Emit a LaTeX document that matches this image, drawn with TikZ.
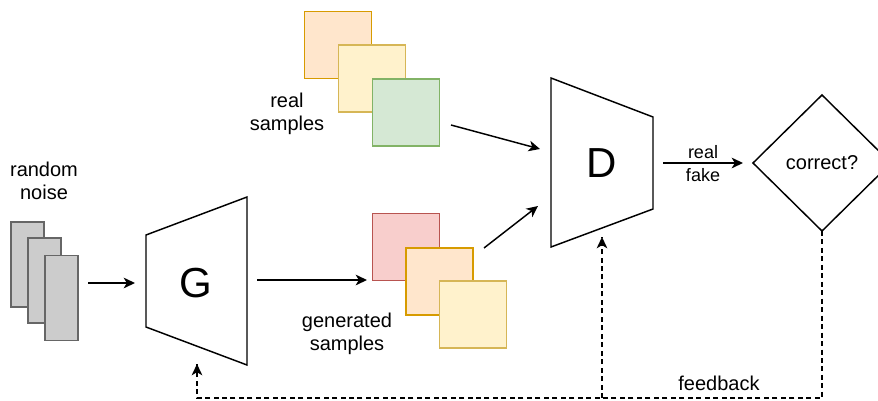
\documentclass[tikz,border=0pt]{standalone}
\usepackage{fontspec}
\setmainfont{Liberation Sans}
\usetikzlibrary{arrows.meta}

\definecolor{noiseFill}{HTML}{CCCCCC}
\definecolor{noiseLine}{HTML}{666666}
\definecolor{redFill}{HTML}{F8CECC}
\definecolor{redLine}{HTML}{B85450}
\definecolor{orangeFill}{HTML}{FFE6CC}
\definecolor{orangeLine}{HTML}{D79B00}
\definecolor{yellowFill}{HTML}{FFF2CC}
\definecolor{yellowLine}{HTML}{D6B656}
\definecolor{greenFill}{HTML}{D5E8D4}
\definecolor{greenLine}{HTML}{82B366}

\tikzset{
  arr/.style={-{Stealth[length=8.5pt,width=8pt,inset=2.4pt]}, line width=1.1pt},
  fb/.style={line width=1.1pt, dash pattern=on 3.75pt off 2.6pt},
  noisebox/.style={draw=noiseLine, fill=noiseFill, line width=1.1pt,
    minimum width=24.75pt, minimum height=63.75pt, inner sep=0pt},
  samplebox/.style={line width=1.1pt, minimum size=50.5pt, inner sep=0pt},
  lbl/.style={font=\fontsize{15pt}{17pt}\selectfont, align=center, inner sep=0pt},
  small/.style={font=\fontsize{13.5pt}{15pt}\selectfont, inner sep=0pt},
  big/.style={font=\fontsize{31.5pt}{34pt}\selectfont, inner sep=0pt},
  trap/.style={draw, line width=1.1pt, line join=miter, fill=white},
}

\begin{document}
\begin{tikzpicture}[x=0.75pt, y=-0.75pt]
\useasboundingbox (0,0) rectangle (878,400);
\clip (0,0) rectangle (878,400);

% random noise input
\node[lbl] (noiseLbl) at (44,181) {random\\noise};
\node[noisebox] (n1) at (27.5,264.5) {};
\node[noisebox] (n2) at (44.5,280.5) {};
\node[noisebox] (n3) at (61.5,298) {};

% generator
\draw[trap] (146,235) -- (247,197) -- (247,365) -- (146,327) -- cycle;
\node[big] (G) at (196,283) {G};

% real samples
\node[samplebox, draw=orangeLine, fill=orangeFill] (r1) at (338,45) {};
\node[samplebox, draw=yellowLine, fill=yellowFill] (r2) at (372,78.5) {};
\node[samplebox, draw=greenLine, fill=greenFill] (r3) at (406,112.5) {};
\node[lbl] (realLbl) at (287,114) {real\\samples};

% generated samples
\node[samplebox, draw=redLine, fill=redFill] (g1) at (406,247) {};
\node[samplebox, draw=orangeLine, fill=orangeFill] (g2) at (439.5,281.5) {};
\node[samplebox, draw=yellowLine, fill=yellowFill] (g3) at (473,314.5) {};
\node[lbl] (genLbl) at (347,334) {generated\\samples};

% discriminator
\draw[trap] (551,78) -- (653,117) -- (653,209) -- (551,247) -- cycle;
\node[big] (D) at (602,163) {D};

% decision
\draw[line width=1.1pt, line join=miter] (753,163) -- (822,95) -- (891,163) -- (822,231) -- cycle;
\node[lbl] (corr) at (822,163) {correct?};

% connector end points
\coordinate (noiseOut) at (88,283);
\coordinate (gIn) at (135,283);
\coordinate (gOut) at (257,280);
\coordinate (genIn) at (367,280);
\coordinate (realOut) at (451,125);
\coordinate (dInReal) at (540,149);
\coordinate (genOut) at (484,248);
\coordinate (dInGen) at (538,206);
\coordinate (dOut) at (663,163);
\coordinate (corrIn) at (743,163);
\coordinate (corrOut) at (822,231);
\coordinate (fbRight) at (822,398);
\coordinate (fbMid) at (602,398);
\coordinate (fbLeft) at (197,398);
\coordinate (gBottom) at (197,364);
\coordinate (dBottom) at (602,237);

% data flow
\draw[arr] (noiseOut) -- (gIn);
\draw[arr] (gOut) -- (genIn);
\draw[arr] (realOut) -- (dInReal);
\draw[arr] (genOut) -- (dInGen);
\draw[arr] (dOut) -- (corrIn);
\node[small, anchor=base] (realTxt) at (703,158) {real};
\node[small, anchor=base] (fakeTxt) at (703,181) {fake};

% feedback loop
\draw[fb] (corrOut) -- (fbRight) -- (fbLeft) -- (gBottom);
\draw[fb] (fbMid) -- (dBottom);
\draw[arr] ([yshift=-6pt]gBottom) -- (gBottom);
\draw[arr] ([yshift=-6pt]dBottom) -- (dBottom);
\node[lbl] (fbLbl) at (719,383) {feedback};
\end{tikzpicture}
\end{document}
